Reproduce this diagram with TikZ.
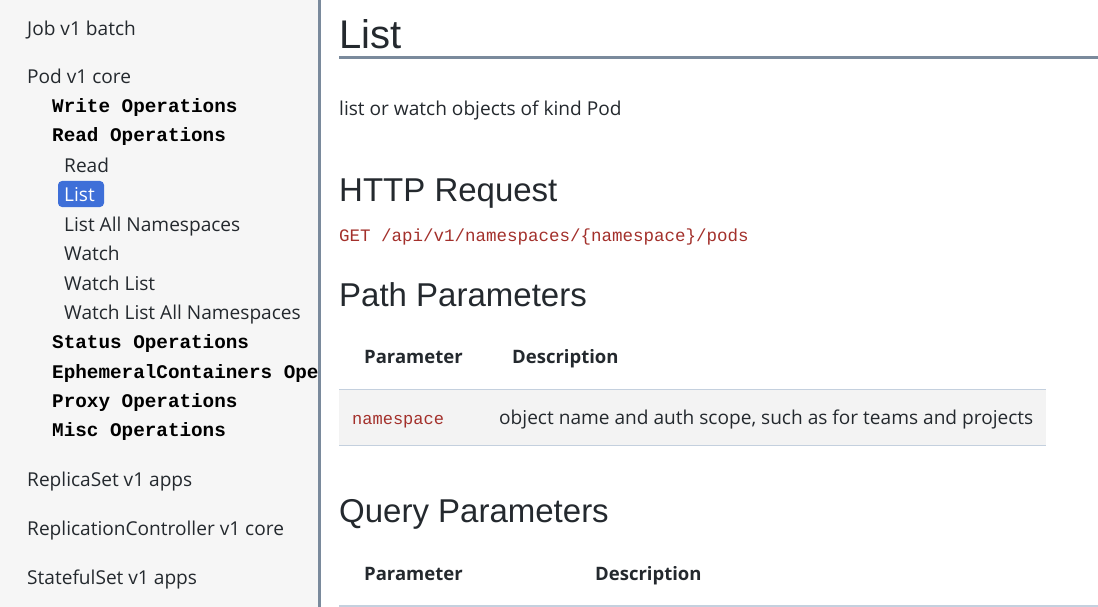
\documentclass[tikz,border=0pt]{standalone}
\usepackage{fontspec}
\setmainfont{Open Sans}
\newfontfamily\monof{Liberation Mono}
\newfontfamily\headf{Liberation Sans}
\definecolor{sidebg}{HTML}{F6F6F6}
\definecolor{rulec}{HTML}{7A8A9C}
\definecolor{codered}{HTML}{A3302B}
\definecolor{txt}{HTML}{24292E}
\definecolor{hl}{HTML}{3E6FD8}
\definecolor{tline}{HTML}{C4D0DE}
\definecolor{rowbg}{HTML}{F3F3F3}
\tikzset{
 side/.style={anchor=base west,inner sep=0pt,font=\fontsize{19.1}{20}\selectfont,text=txt},
 sideop/.style={anchor=base west,inner sep=0pt,font=\monof\bfseries\fontsize{19.3}{20}\selectfont,text=black},
 body/.style={anchor=base west,inner sep=0pt,font=\fontsize{19.1}{20}\selectfont,text=txt},
 head/.style={anchor=base west,inner sep=0pt,font=\headf\fontsize{33}{34}\selectfont,text=txt},
 th/.style={anchor=base west,inner sep=0pt,font=\bfseries\fontsize{18.5}{20}\selectfont,text=txt},
 code/.style={anchor=base west,inner sep=0pt,font=\monof\fontsize{17.5}{20}\selectfont,text=codered},
}
\begin{document}
\begin{tikzpicture}[x=1pt,y=-1pt]
\useasboundingbox (0,0) rectangle (1098,607);
\fill[white] (0,0) rectangle (1098,607);
\fill[sidebg] (0,0) rectangle (318,607);
\draw[rulec,line width=3pt] (319.5,0) -- (319.5,607);
\begin{scope}
\clip (0,0) rectangle (318,607);
\node[side] (job) at (27,36) {Job v1 batch};
\node[side] (pod) at (27,84) {Pod v1 core};
\node[sideop] (w) at (52,113) {Write Operations};
\node[sideop] (r) at (52,142) {Read Operations};
\node[side] (rd) at (64,172) {Read};
\fill[hl,rounded corners=4pt] (58,181) rectangle (104,207);
\node[side,text=white] (ls) at (64,201) {List};
\node[side] (lan) at (64,231) {List All Namespaces};
\node[side] (wa) at (64,260) {Watch};
\node[side] (wl) at (64,290) {Watch List};
\node[side] (wla) at (64,319) {Watch List All Namespaces};
\node[sideop] (st) at (52,348) {Status Operations};
\node[sideop] (eph) at (52,378) {EphemeralContainers Operations};
\node[sideop] (px) at (52,407) {Proxy Operations};
\node[sideop] (mi) at (52,436) {Misc Operations};
\node[side] (rs) at (27,486) {ReplicaSet v1 apps};
\node[side] (rc) at (27,535) {ReplicationController v1 core};
\node[side] (ss) at (27,584) {StatefulSet v1 apps};
\end{scope}
\node[anchor=base west,inner sep=0pt,font=\headf\fontsize{40}{42}\selectfont,text=txt] (title) at (339,49) {List};
\draw[rulec,line width=3pt] (339,57.5) -- (1098,57.5);
\node[body] (desc) at (339,116) {list or watch objects of kind Pod};
\node[head] (http) at (339,201) {HTTP Request};
\node[code] (get) at (339,241) {GET /api/v1/namespaces/\{namespace\}/pods};
\node[head] (pp) at (339,306) {Path Parameters};
\node[th] (p1) at (364,363) {Parameter};
\node[th] (d1) at (512,363) {Description};
\fill[rowbg] (339,389) rectangle (1046,445);
\draw[tline,line width=1pt] (339,389.5) -- (1046,389.5);
\draw[tline,line width=1pt] (339,445) -- (1046,445);
\node[code,font=\monof\fontsize{17}{20}\selectfont] (ns) at (352,424) {namespace};
\node[body] (nsd) at (499,424) {object name and auth scope, such as for teams and projects};
\node[head] (qp) at (339,522) {Query Parameters};
\node[th] (p2) at (364,580) {Parameter};
\node[th] (d2) at (595,580) {Description};
\draw[tline,line width=2pt] (339,606) -- (1098,606);
\end{tikzpicture}
\end{document}
